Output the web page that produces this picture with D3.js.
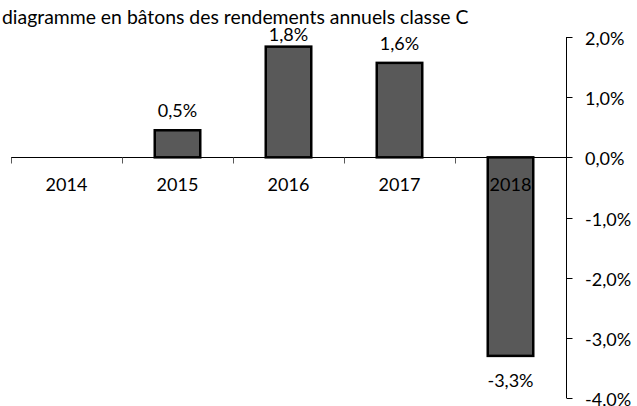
<!DOCTYPE html>
<html>
<head>
<meta charset="utf-8">
<script src="https://cdn.jsdelivr.net/npm/d3@7"></script>
<style>
  html, body { margin: 0; padding: 0; background: #fff; }
  svg { display: block; }
  text { font-family: Lato, "Open Sans", sans-serif; fill: #000; }
</style>
</head>
<body>
<svg id="chart" width="637" height="406"></svg>
<script>
const title = "diagramme en bâtons des rendements annuels classe C";
const categories = ["2014", "2015", "2016", "2017", "2018"];
const values = [null, 0.45, 1.84, 1.57, -3.30];
const labelValues = [null, 0.5, 1.8, 1.6, -3.3];
const yTicks = [-4, -3, -2, -1, 0, 1, 2];

const W = 637, H = 406;
const svg = d3.select("#chart");
const locale = d3.formatLocale({decimal: ",", thousands: " ", grouping: [3], currency: ["", "€"], minus: "-"});
const fmt = v => locale.format(".1f")(v) + "%";

const x = d3.scaleBand().domain(categories).range([11, 566]).paddingInner(0.59).paddingOuter(0.295);
const y = d3.scaleLinear().domain([-4, 2]).range([398, 37]);
const step = x.step();

// title
svg.append("text").attr("x", 2).attr("y", 24).attr("font-size", 19.4).text(title);

// bars
svg.append("g").selectAll("rect")
  .data(categories.map((c, i) => ({c, v: values[i]})).filter(d => d.v != null))
  .join("rect")
  .attr("x", d => x(d.c))
  .attr("width", x.bandwidth())
  .attr("y", d => Math.min(y(d.v), y(0)))
  .attr("height", d => Math.abs(y(d.v) - y(0)))
  .attr("fill", "#595959")
  .attr("stroke", "#000")
  .attr("stroke-width", 2.5);

// x axis line
const y0 = Math.round(y(0)) + 0.5;
svg.append("line").attr("x1", 11).attr("x2", 566).attr("y1", y0).attr("y2", y0)
  .attr("stroke", "#000").attr("stroke-width", 1);
// x ticks at band boundaries
svg.append("g").selectAll("line")
  .data(categories)
  .join("line")
  .attr("x1", d => Math.round(x(d) - x.paddingOuter() * step) + 0.5)
  .attr("x2", d => Math.round(x(d) - x.paddingOuter() * step) + 0.5)
  .attr("y1", y0).attr("y2", y0 + 6)
  .attr("stroke", "#595959").attr("stroke-width", 1);

// y axis on right
const ax = 566.5;
svg.append("line").attr("x1", ax).attr("x2", ax).attr("y1", y(2)).attr("y2", y(-4))
  .attr("stroke", "#000").attr("stroke-width", 1);
svg.append("g").selectAll("line")
  .data(yTicks).join("line")
  .attr("x1", ax).attr("x2", ax + 6)
  .attr("y1", d => Math.round(y(d)) + 0.5).attr("y2", d => Math.round(y(d)) + 0.5)
  .attr("stroke", "#000").attr("stroke-width", 1);
svg.append("g").selectAll("text")
  .data(yTicks).join("text")
  .attr("x", 585).attr("y", d => y(d) + 8)
  .attr("font-size", 18)
  .text(d => fmt(d));

// category labels
svg.append("g").selectAll("text")
  .data(categories).join("text")
  .attr("x", d => x(d) + x.bandwidth() / 2)
  .attr("y", 191)
  .attr("text-anchor", "middle")
  .attr("font-size", 18)
  .text(d => d);

// value labels
svg.append("g").selectAll("text")
  .data(categories.map((c, i) => ({c, v: values[i], l: labelValues[i]})).filter(d => d.v != null))
  .join("text")
  .attr("x", d => x(d.c) + x.bandwidth() / 2)
  .attr("y", d => d.v >= 0 ? Math.max(y(d.v) - 13, 41) : y(d.v) + 31)
  .attr("text-anchor", "middle")
  .attr("font-size", 18)
  .text(d => fmt(d.l));
</script>
</body>
</html>
